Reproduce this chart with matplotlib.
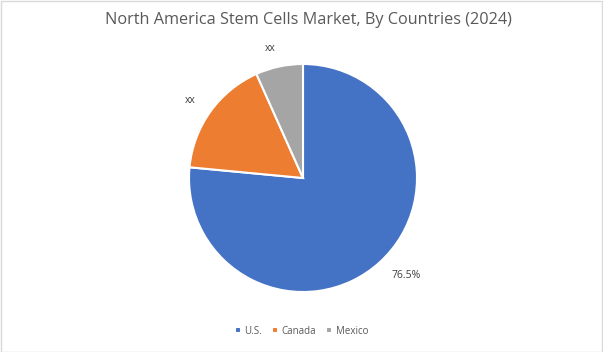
import matplotlib
matplotlib.use('Agg')
import matplotlib.pyplot as plt
from matplotlib.patches import Rectangle

plt.rcParams['font.family'] = ['Open Sans', 'DejaVu Sans']

# Data
countries = ['U.S.', 'Canada', 'Mexico']
shares = [76.5, 16.8, 6.7]
slice_labels = ['76.5%', 'xx', 'xx']
colors = ['#4472C4', '#ED7D31', '#A5A5A5']

W, H = 603, 352
fig = plt.figure(figsize=(W / 100, H / 100), dpi=100)
fig.patches.append(Rectangle((0.5 / W, 0.5 / H), 1 - 1.5 / W, 1 - 1.5 / H,
                             transform=fig.transFigure, fill=False,
                             edgecolor='#D9D9D9', linewidth=1))

cx, cy, r = 303, 178, 114
ax = fig.add_axes([(cx - r) / W, (H - cy - r) / H, 2 * r / W, 2 * r / H])
wedges, texts = ax.pie(shares, colors=colors, startangle=90, counterclock=False,
                       labels=slice_labels, labeldistance=1.16,
                       wedgeprops=dict(edgecolor='white', linewidth=1.5),
                       textprops=dict(color='#404040', fontsize=7.5))
ax.set_xlim(-1, 1)
ax.set_ylim(-1, 1)
ax.set_aspect('equal')

fig.text(308 / W, 1 - 20 / H, 'North America Stem Cells Market, By Countries (2024)',
         ha='center', va='center', fontsize=11.7, color='#595959')

fig.legend(wedges, countries, loc='center', bbox_to_anchor=(0.5, 1 - 331 / H),
           ncol=3, frameon=False, fontsize=7, handlelength=0.6, handleheight=0.6,
           handletextpad=0.4, columnspacing=1.0, labelcolor='#595959')

fig.savefig('out.png', dpi=100)
